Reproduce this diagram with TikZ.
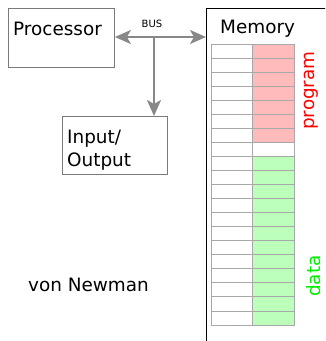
\documentclass[tikz,border=0pt]{standalone}
\usepackage{fontspec}
\setmainfont{DejaVu Sans}
\usetikzlibrary{arrows.meta}
\definecolor{boxgray}{HTML}{7A7A7A}
\definecolor{busgray}{HTML}{888888}
\definecolor{gridgray}{HTML}{A8A8A8}
\definecolor{progfill}{HTML}{FFBBBB}
\definecolor{datafill}{HTML}{BBFFBB}
\definecolor{proglabel}{HTML}{FF0000}
\definecolor{datalabel}{HTML}{00EE00}
\tikzset{
  unit/.style={draw=boxgray, line width=0.9pt, inner sep=0pt},
  label18/.style={font=\fontsize{18.4}{23}\selectfont, inner sep=0pt},
  bus/.style={draw=busgray, line width=2pt,
    -{Stealth[length=16pt,width=14pt,inset=4pt]}},
  cell/.style={draw=gridgray, line width=0.9pt},
}
\begin{document}
\begin{tikzpicture}[x=1pt,y=-1pt]
  \useasboundingbox (0,0) rectangle (325,341);
  \clip (0,0) rectangle (325,341);

  % functional units
  \node[unit, minimum width=106pt, minimum height=59pt, anchor=north west]
    (cpu) at (8,8) {};
  \node[unit, minimum width=105pt, minimum height=58pt, anchor=north west]
    (io) at (62,116) {};
  \node[draw=black, line width=1.4pt, minimum width=140pt, minimum height=360pt,
    anchor=north west, inner sep=0pt] (mem) at (206,8) {};

  \node[label18, anchor=base west] (cpulbl) at (13,35) {Processor};
  \node[label18, anchor=base west, align=left] (iolbl) at (67,166)
    {Input/\\Output};
  \node[label18, anchor=base west] (memlbl) at (220,33) {Memory};
  \node[label18, anchor=base west] (title) at (28,291) {von Newman};

  % memory cells: 20 words, program then data
  \foreach \i in {0,...,19} {
    \pgfmathsetmacro{\top}{44+14.05*\i}
    \pgfmathsetmacro{\bot}{44+14.05*(\i+1)}
    \ifnum\i<7
      \fill[progfill] (252,\top) rectangle (294,\bot);
    \else\ifnum\i>7
      \fill[datafill] (252,\top) rectangle (294,\bot);
    \fi\fi
    \draw[cell] (211,\top) rectangle (252,\bot);
    \draw[cell] (252,\top) rectangle (294,\bot);
  }

  \node[label18, text=proglabel, rotate=90, anchor=base west] (prog) at (314,130) {program};
  \node[label18, text=datalabel, rotate=90, anchor=base west] (data) at (320,297) {data};

  % system bus
  \coordinate (tap) at (154,37);
  \node[font=\fontsize{10}{12}\selectfont, inner sep=0pt, anchor=base] (buslbl) at (152,27.5) {BUS};
  \draw[bus] (tap) -- (cpu.east |- tap);
  \draw[bus] (tap) -- (mem.west |- tap);
  \draw[bus] (tap) -- (tap |- io.north);
\end{tikzpicture}
\end{document}
